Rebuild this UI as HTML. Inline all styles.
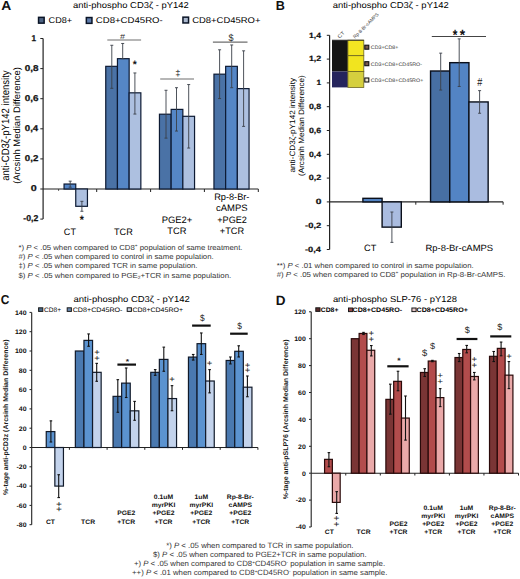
<!DOCTYPE html>
<html><head><meta charset="utf-8"><style>
html,body{margin:0;padding:0;background:#fff;width:520px;height:579px;overflow:hidden}
svg{display:block;font-family:"Liberation Sans", sans-serif;text-rendering:geometricPrecision}
</style></head><body>
<svg width="520" height="579" viewBox="0 0 520 579">
<rect width="520" height="579" fill="#fff"/>
<text transform="translate(1.15,10.3) scale(1.060,1)" font-size="13.08" font-weight="bold" fill="#111">A</text>
<text x="73" y="8.2" font-size="8.6" textLength="115.7" lengthAdjust="spacingAndGlyphs">anti-phospho CD3&#950; - pY142</text>
<rect x="38.55" y="17.35" width="5.6" height="5.8" fill="#4e6484" stroke="#0a1426" stroke-width="1.5"/>
<rect x="86.35" y="17.55" width="5.6" height="5.8" fill="#5e7cac" stroke="#0a1426" stroke-width="1.5"/>
<rect x="182.95" y="17.15" width="5.6" height="5.8" fill="#aab8ce" stroke="#0a1426" stroke-width="1.5"/>
<text x="48.6" y="23.1" font-size="8.4" textLength="23.5" lengthAdjust="spacingAndGlyphs">CD8+</text>
<text x="95.8" y="23.2" font-size="8.4" textLength="67" lengthAdjust="spacingAndGlyphs">CD8+CD45RO-</text>
<text x="192.2" y="23" font-size="8.4" textLength="68.3" lengthAdjust="spacingAndGlyphs">CD8+CD45RO+</text>
<line x1="43.1" y1="38.5" x2="43.1" y2="219.1" stroke="#222" stroke-width="1.2"/>
<line x1="40.3" y1="38.5" x2="43.1" y2="38.5" stroke="#222" stroke-width="1"/>
<line x1="40.3" y1="68.6" x2="43.1" y2="68.6" stroke="#222" stroke-width="1"/>
<line x1="40.3" y1="98.7" x2="43.1" y2="98.7" stroke="#222" stroke-width="1"/>
<line x1="40.3" y1="128.8" x2="43.1" y2="128.8" stroke="#222" stroke-width="1"/>
<line x1="40.3" y1="158.9" x2="43.1" y2="158.9" stroke="#222" stroke-width="1"/>
<line x1="40.3" y1="189" x2="43.1" y2="189" stroke="#222" stroke-width="1"/>
<line x1="40.3" y1="219.1" x2="43.1" y2="219.1" stroke="#222" stroke-width="1"/>
<text transform="translate(31.38,40.75) scale(0.969,1)" font-size="8.45" font-weight="bold" fill="#111" stroke="#111" stroke-width="0.25">1</text>
<text transform="translate(24.8,70.85) scale(1.174,1)" font-size="8.45" font-weight="bold" fill="#111" stroke="#111" stroke-width="0.25">0,8</text>
<text transform="translate(24.8,100.95) scale(1.170,1)" font-size="8.45" font-weight="bold" fill="#111" stroke="#111" stroke-width="0.25">0,6</text>
<text transform="translate(24.81,131.05) scale(1.144,1)" font-size="8.45" font-weight="bold" fill="#111" stroke="#111" stroke-width="0.25">0,4</text>
<text transform="translate(24.81,161.15) scale(1.147,1)" font-size="8.45" font-weight="bold" fill="#111" stroke="#111" stroke-width="0.25">0,2</text>
<text transform="translate(30.87,191.25) scale(1.268,1)" font-size="8.45" font-weight="bold" fill="#111" stroke="#111" stroke-width="0.25">0</text>
<text transform="translate(23.25,221.35) scale(1.029,1)" font-size="8.45" font-weight="bold" fill="#111" stroke="#111" stroke-width="0.25">-0,2</text>
<text transform="translate(9.3,125.6) rotate(-90)" x="0" y="0" font-size="10.6" text-anchor="middle" textLength="110.5" lengthAdjust="spacingAndGlyphs">anti-CD3&#950;-pY142 intensity</text>
<text transform="translate(19.9,125.5) rotate(-90)" x="0" y="0" font-size="9.4" text-anchor="middle" textLength="116.7" lengthAdjust="spacingAndGlyphs">(Arcsinh Median Difference)</text>
<line x1="43.1" y1="189" x2="258.3" y2="189" stroke="#222" stroke-width="1.2"/>
<line x1="96.7" y1="189" x2="96.7" y2="192" stroke="#222" stroke-width="1"/>
<line x1="150.6" y1="189" x2="150.6" y2="192" stroke="#222" stroke-width="1"/>
<line x1="204.4" y1="189" x2="204.4" y2="192" stroke="#222" stroke-width="1"/>
<line x1="258.3" y1="189" x2="258.3" y2="192" stroke="#222" stroke-width="1"/>
<rect x="64.05" y="184.03" width="11.7" height="4.97" fill="#5586c6" stroke="#0d1a33" stroke-width="1.2"/>
<rect x="75.75" y="189" width="11.7" height="17.31" fill="#adc0e0" stroke="#0d1a33" stroke-width="1.2"/>
<rect x="105.75" y="66.34" width="11.7" height="122.66" fill="#4a72a6" stroke="#0d1a33" stroke-width="1.2"/>
<rect x="117.45" y="58.67" width="11.7" height="130.33" fill="#5586c6" stroke="#0d1a33" stroke-width="1.2"/>
<rect x="129.15" y="92.83" width="11.7" height="96.17" fill="#adc0e0" stroke="#0d1a33" stroke-width="1.2"/>
<rect x="159.45" y="114.2" width="11.7" height="74.8" fill="#4a72a6" stroke="#0d1a33" stroke-width="1.2"/>
<rect x="171.15" y="109.39" width="11.7" height="79.61" fill="#5586c6" stroke="#0d1a33" stroke-width="1.2"/>
<rect x="182.85" y="116.31" width="11.7" height="72.69" fill="#adc0e0" stroke="#0d1a33" stroke-width="1.2"/>
<rect x="213.95" y="74.17" width="11.7" height="114.83" fill="#4a72a6" stroke="#0d1a33" stroke-width="1.2"/>
<rect x="225.65" y="66.34" width="11.7" height="122.66" fill="#5586c6" stroke="#0d1a33" stroke-width="1.2"/>
<rect x="237.35" y="88.62" width="11.7" height="100.38" fill="#adc0e0" stroke="#0d1a33" stroke-width="1.2"/>
<line x1="70.2" y1="181.17" x2="70.2" y2="187.19" stroke="#3a3f48" stroke-width="0.9"/>
<line x1="68.7" y1="181.17" x2="71.7" y2="181.17" stroke="#3a3f48" stroke-width="0.9"/>
<line x1="68.7" y1="187.19" x2="71.7" y2="187.19" stroke="#3a3f48" stroke-width="0.9"/>
<line x1="81.9" y1="201.34" x2="81.9" y2="211.27" stroke="#3a3f48" stroke-width="0.9"/>
<line x1="80.4" y1="201.34" x2="83.4" y2="201.34" stroke="#3a3f48" stroke-width="0.9"/>
<line x1="80.4" y1="211.27" x2="83.4" y2="211.27" stroke="#3a3f48" stroke-width="0.9"/>
<line x1="111.8" y1="45.27" x2="111.8" y2="88.32" stroke="#3a3f48" stroke-width="0.9"/>
<line x1="110.3" y1="45.27" x2="113.3" y2="45.27" stroke="#3a3f48" stroke-width="0.9"/>
<line x1="110.3" y1="88.32" x2="113.3" y2="88.32" stroke="#3a3f48" stroke-width="0.9"/>
<line x1="122.7" y1="43.47" x2="122.7" y2="58.67" stroke="#3a3f48" stroke-width="0.9"/>
<line x1="121.2" y1="43.47" x2="124.2" y2="43.47" stroke="#3a3f48" stroke-width="0.9"/>
<line x1="121.2" y1="58.67" x2="124.2" y2="58.67" stroke="#3a3f48" stroke-width="0.9"/>
<line x1="134.9" y1="72.96" x2="134.9" y2="114.05" stroke="#3a3f48" stroke-width="0.9"/>
<line x1="133.4" y1="72.96" x2="136.4" y2="72.96" stroke="#3a3f48" stroke-width="0.9"/>
<line x1="133.4" y1="114.05" x2="136.4" y2="114.05" stroke="#3a3f48" stroke-width="0.9"/>
<line x1="166" y1="90.27" x2="166" y2="138.13" stroke="#3a3f48" stroke-width="0.9"/>
<line x1="164.5" y1="90.27" x2="167.5" y2="90.27" stroke="#3a3f48" stroke-width="0.9"/>
<line x1="164.5" y1="138.13" x2="167.5" y2="138.13" stroke="#3a3f48" stroke-width="0.9"/>
<line x1="176.5" y1="87.71" x2="176.5" y2="131.06" stroke="#3a3f48" stroke-width="0.9"/>
<line x1="175" y1="87.71" x2="178" y2="87.71" stroke="#3a3f48" stroke-width="0.9"/>
<line x1="175" y1="131.06" x2="178" y2="131.06" stroke="#3a3f48" stroke-width="0.9"/>
<line x1="188.7" y1="84.55" x2="188.7" y2="148.06" stroke="#3a3f48" stroke-width="0.9"/>
<line x1="187.2" y1="84.55" x2="190.2" y2="84.55" stroke="#3a3f48" stroke-width="0.9"/>
<line x1="187.2" y1="148.06" x2="190.2" y2="148.06" stroke="#3a3f48" stroke-width="0.9"/>
<line x1="219.6" y1="49.79" x2="219.6" y2="98.55" stroke="#3a3f48" stroke-width="0.9"/>
<line x1="218.1" y1="49.79" x2="221.1" y2="49.79" stroke="#3a3f48" stroke-width="0.9"/>
<line x1="218.1" y1="98.55" x2="221.1" y2="98.55" stroke="#3a3f48" stroke-width="0.9"/>
<line x1="231.7" y1="44.97" x2="231.7" y2="87.71" stroke="#3a3f48" stroke-width="0.9"/>
<line x1="230.2" y1="44.97" x2="233.2" y2="44.97" stroke="#3a3f48" stroke-width="0.9"/>
<line x1="230.2" y1="87.71" x2="233.2" y2="87.71" stroke="#3a3f48" stroke-width="0.9"/>
<line x1="243.6" y1="50.84" x2="243.6" y2="126.39" stroke="#3a3f48" stroke-width="0.9"/>
<line x1="242.1" y1="50.84" x2="245.1" y2="50.84" stroke="#3a3f48" stroke-width="0.9"/>
<line x1="242.1" y1="126.39" x2="245.1" y2="126.39" stroke="#3a3f48" stroke-width="0.9"/>
<line x1="58.6" y1="189" x2="58.6" y2="190.8" stroke="#333" stroke-width="0.9"/>
<line x1="107.3" y1="40" x2="141.1" y2="40" stroke="#6e6e6e" stroke-width="1.15"/>
<text transform="translate(119.96,38.7) scale(1.250,1)" font-size="7.16" fill="#222">#</text>
<text transform="translate(132.87,68.1) scale(0.966,1)" font-size="10.75" font-weight="bold" fill="#111">*</text>
<line x1="160.2" y1="79" x2="194" y2="79" stroke="#6e6e6e" stroke-width="1.15"/>
<text transform="translate(175.28,75.7) scale(1.088,1)" font-size="8.69" fill="#222">&#8225;</text>
<line x1="212.9" y1="42.1" x2="247.5" y2="42.1" stroke="#6e6e6e" stroke-width="1.15"/>
<text transform="translate(228.6,41.23) scale(0.929,1)" font-size="9.77" fill="#222">$</text>
<text transform="translate(79.77,223.61) scale(0.861,1)" font-size="12.37" font-weight="bold" fill="#111">*</text>
<text x="69.9" y="234.6" font-size="9.3" text-anchor="middle" textLength="12.1" lengthAdjust="spacingAndGlyphs">CT</text>
<text x="123.4" y="234.6" font-size="9.3" text-anchor="middle" textLength="18.7" lengthAdjust="spacingAndGlyphs">TCR</text>
<text x="177" y="222.8" font-size="9.3" text-anchor="middle" textLength="30.7" lengthAdjust="spacingAndGlyphs">PGE2+</text>
<text x="176.9" y="233.6" font-size="9.3" text-anchor="middle" textLength="19.1" lengthAdjust="spacingAndGlyphs">TCR</text>
<text x="231.8" y="200.2" font-size="9.3" text-anchor="middle" textLength="35.3" lengthAdjust="spacingAndGlyphs">Rp-8-Br-</text>
<text x="231.8" y="211.2" font-size="9.3" text-anchor="middle" textLength="31.7" lengthAdjust="spacingAndGlyphs">cAMPS</text>
<text x="232.1" y="222.8" font-size="9.3" text-anchor="middle" textLength="29.6" lengthAdjust="spacingAndGlyphs">+PGE2</text>
<text x="232" y="233.6" font-size="9.3" text-anchor="middle" textLength="24.3" lengthAdjust="spacingAndGlyphs">+TCR</text>
<text x="18.5" y="249.6" font-size="7.3" fill="#333" textLength="224" lengthAdjust="spacingAndGlyphs">*) <tspan font-style="italic">P</tspan> &lt; .05 when compared to CD8<tspan font-size="4.5" dy="-2.5">+</tspan><tspan dy="2.5"> population of same treatment.</tspan></text>
<text x="18.5" y="259" font-size="7.3" fill="#333" textLength="195.2" lengthAdjust="spacingAndGlyphs">#) <tspan font-style="italic">P</tspan> &lt; .05 when compared to control in same population.</text>
<text x="18.5" y="268.4" font-size="7.3" fill="#333" textLength="179" lengthAdjust="spacingAndGlyphs">&#8225;) <tspan font-style="italic">P</tspan> &lt; .05 when compared TCR in same population.</text>
<text x="18.5" y="277.8" font-size="7.3" fill="#333" textLength="212.7" lengthAdjust="spacingAndGlyphs">$) <tspan font-style="italic">P</tspan> &lt; .05 when compared to PGE<tspan font-size="4.5" dy="1.5">2</tspan><tspan dy="-1.5">+TCR in same population.</tspan></text>
<text transform="translate(275.85,10.3) scale(0.976,1)" font-size="12.94" font-weight="bold" fill="#111">B</text>
<text x="332.7" y="8.2" font-size="8.6" textLength="116" lengthAdjust="spacingAndGlyphs">anti-phospho CD3&#950; - pY142</text>
<line x1="329.6" y1="35.3" x2="329.6" y2="249.5" stroke="#222" stroke-width="1.2"/>
<line x1="326.8" y1="35.3" x2="329.6" y2="35.3" stroke="#222" stroke-width="1"/>
<text transform="translate(308.95,37.65) scale(1.137,1)" font-size="7.59" font-weight="bold" fill="#111" stroke="#111" stroke-width="0.2">1,4</text>
<line x1="326.8" y1="59.1" x2="329.6" y2="59.1" stroke="#222" stroke-width="1"/>
<text transform="translate(308.93,61.45) scale(1.167,1)" font-size="7.59" font-weight="bold" fill="#111" stroke="#111" stroke-width="0.2">1,2</text>
<line x1="326.8" y1="82.9" x2="329.6" y2="82.9" stroke="#222" stroke-width="1"/>
<text transform="translate(316.56,85.25) scale(1.107,1)" font-size="7.59" font-weight="bold" fill="#111" stroke="#111" stroke-width="0.2">1</text>
<line x1="326.8" y1="106.7" x2="329.6" y2="106.7" stroke="#222" stroke-width="1"/>
<text transform="translate(308.95,109.05) scale(1.157,1)" font-size="7.59" font-weight="bold" fill="#111" stroke="#111" stroke-width="0.2">0,8</text>
<line x1="326.8" y1="130.5" x2="329.6" y2="130.5" stroke="#222" stroke-width="1"/>
<text transform="translate(308.95,132.85) scale(1.163,1)" font-size="7.59" font-weight="bold" fill="#111" stroke="#111" stroke-width="0.2">0,6</text>
<line x1="326.8" y1="154.3" x2="329.6" y2="154.3" stroke="#222" stroke-width="1"/>
<text transform="translate(308.95,156.65) scale(1.137,1)" font-size="7.59" font-weight="bold" fill="#111" stroke="#111" stroke-width="0.2">0,4</text>
<line x1="326.8" y1="178.1" x2="329.6" y2="178.1" stroke="#222" stroke-width="1"/>
<text transform="translate(308.74,180.45) scale(1.186,1)" font-size="7.59" font-weight="bold" fill="#111" stroke="#111" stroke-width="0.2">0,2</text>
<line x1="326.8" y1="201.9" x2="329.6" y2="201.9" stroke="#222" stroke-width="1"/>
<text transform="translate(315.69,204.25) scale(1.356,1)" font-size="7.59" font-weight="bold" fill="#111" stroke="#111" stroke-width="0.2">0</text>
<line x1="326.8" y1="225.7" x2="329.6" y2="225.7" stroke="#222" stroke-width="1"/>
<text transform="translate(305.02,228.05) scale(1.242,1)" font-size="7.59" font-weight="bold" fill="#111" stroke="#111" stroke-width="0.2">-0,2</text>
<line x1="326.8" y1="249.5" x2="329.6" y2="249.5" stroke="#222" stroke-width="1"/>
<text transform="translate(305.03,251.85) scale(1.217,1)" font-size="7.59" font-weight="bold" fill="#111" stroke="#111" stroke-width="0.2">-0,4</text>
<text transform="translate(294.6,125.25) rotate(-90)" x="0" y="0" font-size="7.8" text-anchor="middle" textLength="94.5" lengthAdjust="spacingAndGlyphs">anti-CD3&#950;-pY142 intensity</text>
<text transform="translate(304.2,125.6) rotate(-90)" x="0" y="0" font-size="7.8" text-anchor="middle" textLength="100.8" lengthAdjust="spacingAndGlyphs">(Arcsinh Median Difference)</text>
<rect x="332" y="40.2" width="15.9" height="31.3" fill="#141414"/>
<rect x="332" y="71.5" width="15.9" height="15.9" fill="#25245c"/>
<rect x="347.9" y="40.2" width="15.9" height="15.5" fill="#f3e622" stroke="#6b6420" stroke-width="0.8"/>
<rect x="347.9" y="55.7" width="15.9" height="15.8" fill="#f1e41f" stroke="#6b6420" stroke-width="0.8"/>
<rect x="347.9" y="71.5" width="15.9" height="15.9" fill="#d5cf3e" stroke="#6b6420" stroke-width="0.8"/>
<line x1="332" y1="40.2" x2="363.8" y2="40.2" stroke="#222" stroke-width="0.8"/>
<text transform="translate(339.4,38.8) rotate(-45)" font-size="5.2" fill="#444" textLength="8.2" lengthAdjust="spacingAndGlyphs">CT</text>
<text transform="translate(355.0,38.8) rotate(-45)" font-size="4.9" fill="#444" textLength="34" lengthAdjust="spacingAndGlyphs">Rp-8-Br-cAMPS</text>
<rect x="364.8" y="45.2" width="4" height="4" fill="#7a5a50" stroke="#111" stroke-width="1.1"/>
<text x="370.8" y="49.2" font-size="5" fill="#333" textLength="27.65" lengthAdjust="spacingAndGlyphs">CD3+CD8+</text>
<rect x="364.8" y="61.7" width="4" height="4" fill="#7a5a50" stroke="#111" stroke-width="1.1"/>
<text x="370.8" y="65.7" font-size="5" fill="#333" textLength="51.14" lengthAdjust="spacingAndGlyphs">CD3+CD8+CD45RO-</text>
<rect x="364.8" y="78" width="4" height="4" fill="#f0e8d8" stroke="#111" stroke-width="1.1"/>
<text x="370.8" y="82" font-size="5" fill="#333" textLength="52.48" lengthAdjust="spacingAndGlyphs">CD3+CD8+CD45RO+</text>
<line x1="329.6" y1="201.9" x2="503.1" y2="201.9" stroke="#222" stroke-width="1.2"/>
<line x1="415.8" y1="201.9" x2="415.8" y2="204.7" stroke="#222" stroke-width="1"/>
<line x1="503.1" y1="201.9" x2="503.1" y2="204.7" stroke="#222" stroke-width="1"/>
<rect x="362.9" y="198.33" width="19.2" height="3.57" fill="#5384c4" stroke="#0a0f1a" stroke-width="1.4"/>
<rect x="382.1" y="201.9" width="19.2" height="25.23" fill="#aabce0" stroke="#0a0f1a" stroke-width="1.4"/>
<rect x="430.55" y="71" width="19.2" height="130.9" fill="#476fa3" stroke="#0a0f1a" stroke-width="1.4"/>
<rect x="449.75" y="62.67" width="19.2" height="139.23" fill="#5384c4" stroke="#0a0f1a" stroke-width="1.4"/>
<rect x="468.95" y="101.94" width="19.2" height="99.96" fill="#aabce0" stroke="#0a0f1a" stroke-width="1.4"/>
<line x1="391.9" y1="212.02" x2="391.9" y2="242.36" stroke="#3a3f48" stroke-width="0.9"/>
<line x1="390.4" y1="212.02" x2="393.4" y2="212.02" stroke="#3a3f48" stroke-width="0.9"/>
<line x1="390.4" y1="242.36" x2="393.4" y2="242.36" stroke="#3a3f48" stroke-width="0.9"/>
<line x1="440.7" y1="53.15" x2="440.7" y2="90.04" stroke="#3a3f48" stroke-width="0.9"/>
<line x1="439.2" y1="53.15" x2="442.2" y2="53.15" stroke="#3a3f48" stroke-width="0.9"/>
<line x1="439.2" y1="90.04" x2="442.2" y2="90.04" stroke="#3a3f48" stroke-width="0.9"/>
<line x1="459.2" y1="38.87" x2="459.2" y2="86.47" stroke="#3a3f48" stroke-width="0.9"/>
<line x1="457.7" y1="38.87" x2="460.7" y2="38.87" stroke="#3a3f48" stroke-width="0.9"/>
<line x1="457.7" y1="86.47" x2="460.7" y2="86.47" stroke="#3a3f48" stroke-width="0.9"/>
<line x1="479.6" y1="90.64" x2="479.6" y2="113.25" stroke="#3a3f48" stroke-width="0.9"/>
<line x1="478.1" y1="90.64" x2="481.1" y2="90.64" stroke="#3a3f48" stroke-width="0.9"/>
<line x1="478.1" y1="113.25" x2="481.1" y2="113.25" stroke="#3a3f48" stroke-width="0.9"/>
<line x1="431.8" y1="36.5" x2="486" y2="36.5" stroke="#444" stroke-width="1"/>
<text transform="translate(452.66,39.97) scale(0.808,1)" font-size="14.78" font-weight="bold" fill="#111">*</text>
<text transform="translate(459.76,39.97) scale(0.931,1)" font-size="14.78" font-weight="bold" fill="#111">*</text>
<text transform="translate(477.26,86.4) scale(0.772,1)" font-size="11.84" fill="#222">#</text>
<text x="370.2" y="250.8" font-size="9.2" text-anchor="middle" textLength="12.26" lengthAdjust="spacingAndGlyphs">CT</text>
<text x="459.3" y="250.8" font-size="9" text-anchor="middle" textLength="67.74" lengthAdjust="spacingAndGlyphs">Rp-8-Br-cAMPS</text>
<text x="276.7" y="267.7" font-size="7.3" fill="#333" textLength="197" lengthAdjust="spacingAndGlyphs">**) <tspan font-style="italic">P</tspan> &lt; .01 when compared to control in same population.</text>
<text x="276.7" y="276.5" font-size="7.3" fill="#333" textLength="228.8" lengthAdjust="spacingAndGlyphs">#) <tspan font-style="italic">P</tspan> &lt; .05 when compared to CD8<tspan font-size="4.5" dy="-2.5">+</tspan><tspan dy="2.5"> population in Rp-8-Br-cAMPS.</tspan></text>
<text transform="translate(0.81,304.37) scale(0.918,1)" font-size="12.99" font-weight="bold" fill="#111">C</text>
<text x="73.5" y="301.5" font-size="8.6" textLength="116.3" lengthAdjust="spacingAndGlyphs">anti-phospho CD3&#950; - pY142</text>
<rect x="38.6" y="307.8" width="4.2" height="3.6" fill="#4a6a8a" stroke="#1a1a1a" stroke-width="1"/>
<text x="44.1" y="311.8" font-size="6.5" textLength="16.9" lengthAdjust="spacingAndGlyphs">CD8+</text>
<rect x="67.2" y="307.8" width="4.2" height="3.6" fill="#6a88b0" stroke="#1a1a1a" stroke-width="1"/>
<text x="72.7" y="311.8" font-size="6.5" textLength="49.8" lengthAdjust="spacingAndGlyphs">CD8+CD45RO-</text>
<rect x="127.2" y="307.8" width="4.2" height="3.6" fill="#d0d8e8" stroke="#1a1a1a" stroke-width="1"/>
<text x="132.4" y="311.8" font-size="6.5" textLength="50.6" lengthAdjust="spacingAndGlyphs">CD8+CD45RO+</text>
<line x1="31.7" y1="312.4" x2="31.7" y2="524.7" stroke="#222" stroke-width="1.1"/>
<line x1="29.5" y1="312.4" x2="31.7" y2="312.4" stroke="#222" stroke-width="1"/>
<text x="26.6" y="314.7" font-size="6.5" text-anchor="end" font-weight="bold" fill="#111" textLength="11.6" lengthAdjust="spacingAndGlyphs">140</text>
<line x1="29.5" y1="331.7" x2="31.7" y2="331.7" stroke="#222" stroke-width="1"/>
<text x="26.6" y="334" font-size="6.5" text-anchor="end" font-weight="bold" fill="#111" textLength="11.6" lengthAdjust="spacingAndGlyphs">120</text>
<line x1="29.5" y1="351" x2="31.7" y2="351" stroke="#222" stroke-width="1"/>
<text x="26.6" y="353.3" font-size="6.5" text-anchor="end" font-weight="bold" fill="#111" textLength="11.6" lengthAdjust="spacingAndGlyphs">100</text>
<line x1="29.5" y1="370.3" x2="31.7" y2="370.3" stroke="#222" stroke-width="1"/>
<text x="26.6" y="372.6" font-size="6.5" text-anchor="end" font-weight="bold" fill="#111" textLength="7.74" lengthAdjust="spacingAndGlyphs">80</text>
<line x1="29.5" y1="389.6" x2="31.7" y2="389.6" stroke="#222" stroke-width="1"/>
<text x="26.6" y="391.9" font-size="6.5" text-anchor="end" font-weight="bold" fill="#111" textLength="7.74" lengthAdjust="spacingAndGlyphs">60</text>
<line x1="29.5" y1="408.9" x2="31.7" y2="408.9" stroke="#222" stroke-width="1"/>
<text x="26.6" y="411.2" font-size="6.5" text-anchor="end" font-weight="bold" fill="#111" textLength="7.74" lengthAdjust="spacingAndGlyphs">40</text>
<line x1="29.5" y1="428.2" x2="31.7" y2="428.2" stroke="#222" stroke-width="1"/>
<text x="26.6" y="430.5" font-size="6.5" text-anchor="end" font-weight="bold" fill="#111" textLength="7.74" lengthAdjust="spacingAndGlyphs">20</text>
<line x1="29.5" y1="447.5" x2="31.7" y2="447.5" stroke="#222" stroke-width="1"/>
<text x="26.6" y="449.8" font-size="6.5" text-anchor="end" font-weight="bold" fill="#111" textLength="3.87" lengthAdjust="spacingAndGlyphs">0</text>
<line x1="29.5" y1="466.8" x2="31.7" y2="466.8" stroke="#222" stroke-width="1"/>
<text x="26.6" y="469.1" font-size="6.5" text-anchor="end" font-weight="bold" fill="#111" textLength="10.05" lengthAdjust="spacingAndGlyphs">-20</text>
<line x1="29.5" y1="486.1" x2="31.7" y2="486.1" stroke="#222" stroke-width="1"/>
<text x="26.6" y="488.4" font-size="6.5" text-anchor="end" font-weight="bold" fill="#111" textLength="10.05" lengthAdjust="spacingAndGlyphs">-40</text>
<line x1="29.5" y1="505.4" x2="31.7" y2="505.4" stroke="#222" stroke-width="1"/>
<text x="26.6" y="507.7" font-size="6.5" text-anchor="end" font-weight="bold" fill="#111" textLength="10.05" lengthAdjust="spacingAndGlyphs">-60</text>
<line x1="29.5" y1="524.7" x2="31.7" y2="524.7" stroke="#222" stroke-width="1"/>
<text x="26.6" y="527" font-size="6.5" text-anchor="end" font-weight="bold" fill="#111" textLength="10.05" lengthAdjust="spacingAndGlyphs">-80</text>
<text transform="translate(8.4,417.2) rotate(-90)" x="0" y="0" font-size="6.9" text-anchor="middle" font-weight="bold" fill="#1a1a1a" textLength="155.44" lengthAdjust="spacingAndGlyphs">%-tage anti-pCD3z (Arcsinh Median Difference)</text>
<line x1="31.7" y1="447.5" x2="257.9" y2="447.5" stroke="#222" stroke-width="1.1"/>
<line x1="69.4" y1="447.5" x2="69.4" y2="449.8" stroke="#222" stroke-width="1"/>
<line x1="107.1" y1="447.5" x2="107.1" y2="449.8" stroke="#222" stroke-width="1"/>
<line x1="144.8" y1="447.5" x2="144.8" y2="449.8" stroke="#222" stroke-width="1"/>
<line x1="182.5" y1="447.5" x2="182.5" y2="449.8" stroke="#222" stroke-width="1"/>
<line x1="220.2" y1="447.5" x2="220.2" y2="449.8" stroke="#222" stroke-width="1"/>
<line x1="257.9" y1="447.5" x2="257.9" y2="449.8" stroke="#222" stroke-width="1"/>
<rect x="46.25" y="431.58" width="8.6" height="15.92" fill="#5b93d0" stroke="#111a2a" stroke-width="1.2"/>
<rect x="54.85" y="447.5" width="8.6" height="38.6" fill="#c3d3ec" stroke="#111a2a" stroke-width="1.2"/>
<rect x="75.35" y="351" width="8.6" height="96.5" fill="#4a79b0" stroke="#111a2a" stroke-width="1.2"/>
<rect x="83.95" y="340.38" width="8.6" height="107.12" fill="#5b93d0" stroke="#111a2a" stroke-width="1.2"/>
<rect x="92.55" y="372.33" width="8.6" height="75.17" fill="#c3d3ec" stroke="#111a2a" stroke-width="1.2"/>
<rect x="113.05" y="396.36" width="8.6" height="51.14" fill="#4a79b0" stroke="#111a2a" stroke-width="1.2"/>
<rect x="121.65" y="383.13" width="8.6" height="64.37" fill="#5b93d0" stroke="#111a2a" stroke-width="1.2"/>
<rect x="130.25" y="410.83" width="8.6" height="36.67" fill="#c3d3ec" stroke="#111a2a" stroke-width="1.2"/>
<rect x="150.75" y="372.33" width="8.6" height="75.17" fill="#4a79b0" stroke="#111a2a" stroke-width="1.2"/>
<rect x="159.35" y="359.4" width="8.6" height="88.1" fill="#5b93d0" stroke="#111a2a" stroke-width="1.2"/>
<rect x="167.95" y="398.57" width="8.6" height="48.93" fill="#c3d3ec" stroke="#111a2a" stroke-width="1.2"/>
<rect x="188.45" y="357.08" width="8.6" height="90.42" fill="#4a79b0" stroke="#111a2a" stroke-width="1.2"/>
<rect x="197.05" y="343.67" width="8.6" height="103.83" fill="#5b93d0" stroke="#111a2a" stroke-width="1.2"/>
<rect x="205.65" y="381.01" width="8.6" height="66.49" fill="#c3d3ec" stroke="#111a2a" stroke-width="1.2"/>
<rect x="226.15" y="360.46" width="8.6" height="87.04" fill="#4a79b0" stroke="#111a2a" stroke-width="1.2"/>
<rect x="234.75" y="351.29" width="8.6" height="96.21" fill="#5b93d0" stroke="#111a2a" stroke-width="1.2"/>
<rect x="243.35" y="387.19" width="8.6" height="60.31" fill="#c3d3ec" stroke="#111a2a" stroke-width="1.2"/>
<line x1="50.9" y1="420.87" x2="50.9" y2="442" stroke="#111" stroke-width="1.1"/>
<line x1="49.6" y1="420.87" x2="52.2" y2="420.87" stroke="#111" stroke-width="1.1"/>
<line x1="49.6" y1="442" x2="52.2" y2="442" stroke="#111" stroke-width="1.1"/>
<line x1="58.7" y1="474.71" x2="58.7" y2="497.58" stroke="#111" stroke-width="1.1"/>
<line x1="57.4" y1="474.71" x2="60" y2="474.71" stroke="#111" stroke-width="1.1"/>
<line x1="57.4" y1="497.58" x2="60" y2="497.58" stroke="#111" stroke-width="1.1"/>
<line x1="88.6" y1="333.92" x2="88.6" y2="346.27" stroke="#111" stroke-width="1.1"/>
<line x1="87.3" y1="333.92" x2="89.9" y2="333.92" stroke="#111" stroke-width="1.1"/>
<line x1="87.3" y1="346.27" x2="89.9" y2="346.27" stroke="#111" stroke-width="1.1"/>
<line x1="96.7" y1="363.35" x2="96.7" y2="381.3" stroke="#111" stroke-width="1.1"/>
<line x1="95.4" y1="363.35" x2="98" y2="363.35" stroke="#111" stroke-width="1.1"/>
<line x1="95.4" y1="381.3" x2="98" y2="381.3" stroke="#111" stroke-width="1.1"/>
<line x1="117.8" y1="379.66" x2="117.8" y2="412.28" stroke="#111" stroke-width="1.1"/>
<line x1="116.5" y1="379.66" x2="119.1" y2="379.66" stroke="#111" stroke-width="1.1"/>
<line x1="116.5" y1="412.28" x2="119.1" y2="412.28" stroke="#111" stroke-width="1.1"/>
<line x1="126.2" y1="367.98" x2="126.2" y2="397.51" stroke="#111" stroke-width="1.1"/>
<line x1="124.9" y1="367.98" x2="127.5" y2="367.98" stroke="#111" stroke-width="1.1"/>
<line x1="124.9" y1="397.51" x2="127.5" y2="397.51" stroke="#111" stroke-width="1.1"/>
<line x1="134.6" y1="401.37" x2="134.6" y2="420.29" stroke="#111" stroke-width="1.1"/>
<line x1="133.3" y1="401.37" x2="135.9" y2="401.37" stroke="#111" stroke-width="1.1"/>
<line x1="133.3" y1="420.29" x2="135.9" y2="420.29" stroke="#111" stroke-width="1.1"/>
<line x1="155.2" y1="369.62" x2="155.2" y2="375.32" stroke="#111" stroke-width="1.1"/>
<line x1="153.9" y1="369.62" x2="156.5" y2="369.62" stroke="#111" stroke-width="1.1"/>
<line x1="153.9" y1="375.32" x2="156.5" y2="375.32" stroke="#111" stroke-width="1.1"/>
<line x1="163.8" y1="347.14" x2="163.8" y2="371.26" stroke="#111" stroke-width="1.1"/>
<line x1="162.5" y1="347.14" x2="165.1" y2="347.14" stroke="#111" stroke-width="1.1"/>
<line x1="162.5" y1="371.26" x2="165.1" y2="371.26" stroke="#111" stroke-width="1.1"/>
<line x1="172" y1="385.64" x2="172" y2="410.73" stroke="#111" stroke-width="1.1"/>
<line x1="170.7" y1="385.64" x2="173.3" y2="385.64" stroke="#111" stroke-width="1.1"/>
<line x1="170.7" y1="410.73" x2="173.3" y2="410.73" stroke="#111" stroke-width="1.1"/>
<line x1="193.2" y1="354.47" x2="193.2" y2="360.07" stroke="#111" stroke-width="1.1"/>
<line x1="191.9" y1="354.47" x2="194.5" y2="354.47" stroke="#111" stroke-width="1.1"/>
<line x1="191.9" y1="360.07" x2="194.5" y2="360.07" stroke="#111" stroke-width="1.1"/>
<line x1="201.3" y1="332.95" x2="201.3" y2="354.47" stroke="#111" stroke-width="1.1"/>
<line x1="200" y1="332.95" x2="202.6" y2="332.95" stroke="#111" stroke-width="1.1"/>
<line x1="200" y1="354.47" x2="202.6" y2="354.47" stroke="#111" stroke-width="1.1"/>
<line x1="209.6" y1="369.62" x2="209.6" y2="392.88" stroke="#111" stroke-width="1.1"/>
<line x1="208.3" y1="369.62" x2="210.9" y2="369.62" stroke="#111" stroke-width="1.1"/>
<line x1="208.3" y1="392.88" x2="210.9" y2="392.88" stroke="#111" stroke-width="1.1"/>
<line x1="230.4" y1="356.98" x2="230.4" y2="363.93" stroke="#111" stroke-width="1.1"/>
<line x1="229.1" y1="356.98" x2="231.7" y2="356.98" stroke="#111" stroke-width="1.1"/>
<line x1="229.1" y1="363.93" x2="231.7" y2="363.93" stroke="#111" stroke-width="1.1"/>
<line x1="238.7" y1="345.79" x2="238.7" y2="356.98" stroke="#111" stroke-width="1.1"/>
<line x1="237.4" y1="345.79" x2="240" y2="345.79" stroke="#111" stroke-width="1.1"/>
<line x1="237.4" y1="356.98" x2="240" y2="356.98" stroke="#111" stroke-width="1.1"/>
<line x1="247.4" y1="375.99" x2="247.4" y2="396.74" stroke="#111" stroke-width="1.1"/>
<line x1="246.1" y1="375.99" x2="248.7" y2="375.99" stroke="#111" stroke-width="1.1"/>
<line x1="246.1" y1="396.74" x2="248.7" y2="396.74" stroke="#111" stroke-width="1.1"/>
<line x1="117.4" y1="364.6" x2="136" y2="364.6" stroke="#111" stroke-width="2.2"/>
<line x1="192.1" y1="325.6" x2="210.7" y2="325.6" stroke="#111" stroke-width="2.2"/>
<line x1="230.1" y1="333.7" x2="247.7" y2="333.7" stroke="#111" stroke-width="2.2"/>
<text transform="translate(56.01,506.61) scale(1.174,1)" font-size="8.59" fill="#222">+</text>
<text transform="translate(56.01,512.31) scale(1.174,1)" font-size="8.59" fill="#222">+</text>
<text transform="translate(94.34,355.36) scale(1.102,1)" font-size="8.59" fill="#222">+</text>
<text transform="translate(94.24,361.26) scale(1.102,1)" font-size="8.59" fill="#222">+</text>
<text transform="translate(125.77,364.19) scale(1.181,1)" font-size="7.26" font-weight="bold" fill="#222">*</text>
<text transform="translate(169.24,381.56) scale(1.102,1)" font-size="8.59" fill="#222">+</text>
<text transform="translate(206.84,366.36) scale(1.102,1)" font-size="8.59" fill="#222">+</text>
<text transform="translate(244.64,367.66) scale(1.102,1)" font-size="8.59" fill="#222">+</text>
<text transform="translate(244.64,373.36) scale(1.102,1)" font-size="8.59" fill="#222">+</text>
<text transform="translate(200.01,320.86) scale(0.897,1)" font-size="9.27" fill="#222">$</text>
<text transform="translate(237.31,329.16) scale(0.897,1)" font-size="9.27" fill="#222">$</text>
<text x="50.5" y="523.7" font-size="6.4" text-anchor="middle" font-weight="bold" fill="#111" textLength="9.04" lengthAdjust="spacingAndGlyphs">CT</text>
<text x="88.1" y="523.7" font-size="6.4" text-anchor="middle" font-weight="bold" fill="#111" textLength="13.94" lengthAdjust="spacingAndGlyphs">TCR</text>
<text x="126.2" y="515.45" font-size="6.4" text-anchor="middle" font-weight="bold" fill="#111" textLength="18.1" lengthAdjust="spacingAndGlyphs">PGE2</text>
<text x="126.2" y="523.68" font-size="6.4" text-anchor="middle" font-weight="bold" fill="#111" textLength="17.9" lengthAdjust="spacingAndGlyphs">+TCR</text>
<text x="163.5" y="499" font-size="6.4" text-anchor="middle" font-weight="bold" fill="#111" textLength="19.23" lengthAdjust="spacingAndGlyphs">0.1uM</text>
<text x="163.5" y="507.23" font-size="6.4" text-anchor="middle" font-weight="bold" fill="#111" textLength="23.75" lengthAdjust="spacingAndGlyphs">myrPKI</text>
<text x="163.5" y="515.46" font-size="6.4" text-anchor="middle" font-weight="bold" fill="#111" textLength="22.06" lengthAdjust="spacingAndGlyphs">+PGE2</text>
<text x="163.5" y="523.69" font-size="6.4" text-anchor="middle" font-weight="bold" fill="#111" textLength="17.9" lengthAdjust="spacingAndGlyphs">+TCR</text>
<text x="201.3" y="499" font-size="6.4" text-anchor="middle" font-weight="bold" fill="#111" textLength="13.57" lengthAdjust="spacingAndGlyphs">1uM</text>
<text x="201.3" y="507.23" font-size="6.4" text-anchor="middle" font-weight="bold" fill="#111" textLength="23.75" lengthAdjust="spacingAndGlyphs">myrPKI</text>
<text x="201.3" y="515.46" font-size="6.4" text-anchor="middle" font-weight="bold" fill="#111" textLength="22.06" lengthAdjust="spacingAndGlyphs">+PGE2</text>
<text x="201.3" y="523.69" font-size="6.4" text-anchor="middle" font-weight="bold" fill="#111" textLength="17.9" lengthAdjust="spacingAndGlyphs">+TCR</text>
<text x="240.3" y="499" font-size="6.4" text-anchor="middle" font-weight="bold" fill="#111" textLength="27.13" lengthAdjust="spacingAndGlyphs">Rp-8-Br-</text>
<text x="240.3" y="507.23" font-size="6.4" text-anchor="middle" font-weight="bold" fill="#111" textLength="23.37" lengthAdjust="spacingAndGlyphs">cAMPS</text>
<text x="240.3" y="515.46" font-size="6.4" text-anchor="middle" font-weight="bold" fill="#111" textLength="22.06" lengthAdjust="spacingAndGlyphs">+PGE2</text>
<text x="240.3" y="523.69" font-size="6.4" text-anchor="middle" font-weight="bold" fill="#111" textLength="17.9" lengthAdjust="spacingAndGlyphs">+TCR</text>
<text transform="translate(275.69,305.1) scale(1.013,1)" font-size="13.37" font-weight="bold" fill="#111">D</text>
<text x="332.9" y="302" font-size="8.6" textLength="124" lengthAdjust="spacingAndGlyphs">anti-phospho SLP-76 - pY128</text>
<rect x="315.8" y="307.8" width="4.2" height="3.6" fill="#5a2a2a" stroke="#1a1a1a" stroke-width="1"/>
<text x="320.8" y="312" font-size="6.5" font-weight="bold" textLength="17.6" lengthAdjust="spacingAndGlyphs">CD8+</text>
<rect x="348.5" y="308" width="4.2" height="3.6" fill="#9a4a4a" stroke="#1a1a1a" stroke-width="1"/>
<text x="352.6" y="312" font-size="6.5" font-weight="bold" textLength="49.5" lengthAdjust="spacingAndGlyphs">CD8+CD45RO-</text>
<rect x="411.9" y="308" width="4.2" height="3.6" fill="#e8c8c8" stroke="#1a1a1a" stroke-width="1"/>
<text x="416.5" y="312" font-size="6.5" font-weight="bold" textLength="51.4" lengthAdjust="spacingAndGlyphs">CD8+CD45RO+</text>
<line x1="311.2" y1="311.8" x2="311.2" y2="527" stroke="#222" stroke-width="1.1"/>
<line x1="309" y1="311.8" x2="311.2" y2="311.8" stroke="#222" stroke-width="1"/>
<text x="305.8" y="314.1" font-size="6.5" text-anchor="end" font-weight="bold" fill="#111" textLength="11.6" lengthAdjust="spacingAndGlyphs">120</text>
<line x1="309" y1="338.7" x2="311.2" y2="338.7" stroke="#222" stroke-width="1"/>
<text x="305.8" y="341" font-size="6.5" text-anchor="end" font-weight="bold" fill="#111" textLength="11.6" lengthAdjust="spacingAndGlyphs">100</text>
<line x1="309" y1="365.6" x2="311.2" y2="365.6" stroke="#222" stroke-width="1"/>
<text x="305.8" y="367.9" font-size="6.5" text-anchor="end" font-weight="bold" fill="#111" textLength="7.74" lengthAdjust="spacingAndGlyphs">80</text>
<line x1="309" y1="392.5" x2="311.2" y2="392.5" stroke="#222" stroke-width="1"/>
<text x="305.8" y="394.8" font-size="6.5" text-anchor="end" font-weight="bold" fill="#111" textLength="7.74" lengthAdjust="spacingAndGlyphs">60</text>
<line x1="309" y1="419.4" x2="311.2" y2="419.4" stroke="#222" stroke-width="1"/>
<text x="305.8" y="421.7" font-size="6.5" text-anchor="end" font-weight="bold" fill="#111" textLength="7.74" lengthAdjust="spacingAndGlyphs">40</text>
<line x1="309" y1="446.3" x2="311.2" y2="446.3" stroke="#222" stroke-width="1"/>
<text x="305.8" y="448.6" font-size="6.5" text-anchor="end" font-weight="bold" fill="#111" textLength="7.74" lengthAdjust="spacingAndGlyphs">20</text>
<line x1="309" y1="473.2" x2="311.2" y2="473.2" stroke="#222" stroke-width="1"/>
<text x="305.8" y="475.5" font-size="6.5" text-anchor="end" font-weight="bold" fill="#111" textLength="3.87" lengthAdjust="spacingAndGlyphs">0</text>
<line x1="309" y1="500.1" x2="311.2" y2="500.1" stroke="#222" stroke-width="1"/>
<text x="305.8" y="502.4" font-size="6.5" text-anchor="end" font-weight="bold" fill="#111" textLength="10.05" lengthAdjust="spacingAndGlyphs">-20</text>
<line x1="309" y1="527" x2="311.2" y2="527" stroke="#222" stroke-width="1"/>
<text x="305.8" y="529.3" font-size="6.5" text-anchor="end" font-weight="bold" fill="#111" textLength="10.05" lengthAdjust="spacingAndGlyphs">-40</text>
<text transform="translate(288.2,419.4) rotate(-90)" x="0" y="0" font-size="6.9" text-anchor="middle" font-weight="bold" fill="#1a1a1a" textLength="159.7" lengthAdjust="spacingAndGlyphs">%-tage anti-pSLP76 (Arcsinh Median Difference)</text>
<line x1="311.2" y1="473.2" x2="518.5" y2="473.2" stroke="#222" stroke-width="1.1"/>
<line x1="345.75" y1="473.2" x2="345.75" y2="475.5" stroke="#222" stroke-width="1"/>
<line x1="380.3" y1="473.2" x2="380.3" y2="475.5" stroke="#222" stroke-width="1"/>
<line x1="414.85" y1="473.2" x2="414.85" y2="475.5" stroke="#222" stroke-width="1"/>
<line x1="449.4" y1="473.2" x2="449.4" y2="475.5" stroke="#222" stroke-width="1"/>
<line x1="483.95" y1="473.2" x2="483.95" y2="475.5" stroke="#222" stroke-width="1"/>
<line x1="518.5" y1="473.2" x2="518.5" y2="475.5" stroke="#222" stroke-width="1"/>
<rect x="324.57" y="459.35" width="7.8" height="13.85" fill="#b24c4c" stroke="#2a0a0a" stroke-width="1.2"/>
<rect x="332.38" y="473.2" width="7.8" height="29.19" fill="#eaa9a9" stroke="#2a0a0a" stroke-width="1.2"/>
<rect x="351.32" y="338.7" width="7.8" height="134.5" fill="#7a3535" stroke="#2a0a0a" stroke-width="1.2"/>
<rect x="359.12" y="333.45" width="7.8" height="139.75" fill="#b24c4c" stroke="#2a0a0a" stroke-width="1.2"/>
<rect x="366.93" y="350.27" width="7.8" height="122.93" fill="#eaa9a9" stroke="#2a0a0a" stroke-width="1.2"/>
<rect x="385.88" y="399.36" width="7.8" height="73.84" fill="#7a3535" stroke="#2a0a0a" stroke-width="1.2"/>
<rect x="393.68" y="381.34" width="7.8" height="91.86" fill="#b24c4c" stroke="#2a0a0a" stroke-width="1.2"/>
<rect x="401.48" y="418.06" width="7.8" height="55.14" fill="#eaa9a9" stroke="#2a0a0a" stroke-width="1.2"/>
<rect x="420.43" y="372.46" width="7.8" height="100.74" fill="#7a3535" stroke="#2a0a0a" stroke-width="1.2"/>
<rect x="428.23" y="361.03" width="7.8" height="112.17" fill="#b24c4c" stroke="#2a0a0a" stroke-width="1.2"/>
<rect x="436.03" y="397.61" width="7.8" height="75.59" fill="#eaa9a9" stroke="#2a0a0a" stroke-width="1.2"/>
<rect x="454.97" y="357.53" width="7.8" height="115.67" fill="#7a3535" stroke="#2a0a0a" stroke-width="1.2"/>
<rect x="462.77" y="349.46" width="7.8" height="123.74" fill="#b24c4c" stroke="#2a0a0a" stroke-width="1.2"/>
<rect x="470.57" y="376.49" width="7.8" height="96.71" fill="#eaa9a9" stroke="#2a0a0a" stroke-width="1.2"/>
<rect x="489.52" y="356.32" width="7.8" height="116.88" fill="#7a3535" stroke="#2a0a0a" stroke-width="1.2"/>
<rect x="497.32" y="348.38" width="7.8" height="124.82" fill="#b24c4c" stroke="#2a0a0a" stroke-width="1.2"/>
<rect x="505.12" y="375.15" width="7.8" height="98.05" fill="#eaa9a9" stroke="#2a0a0a" stroke-width="1.2"/>
<line x1="328.9" y1="452.62" x2="328.9" y2="466.74" stroke="#111" stroke-width="1.1"/>
<line x1="327.6" y1="452.62" x2="330.2" y2="452.62" stroke="#111" stroke-width="1.1"/>
<line x1="327.6" y1="466.74" x2="330.2" y2="466.74" stroke="#111" stroke-width="1.1"/>
<line x1="336.7" y1="491.63" x2="336.7" y2="513.42" stroke="#111" stroke-width="1.1"/>
<line x1="335.4" y1="491.63" x2="338" y2="491.63" stroke="#111" stroke-width="1.1"/>
<line x1="335.4" y1="513.42" x2="338" y2="513.42" stroke="#111" stroke-width="1.1"/>
<line x1="363.5" y1="332.38" x2="363.5" y2="334.53" stroke="#111" stroke-width="1.1"/>
<line x1="362.2" y1="332.38" x2="364.8" y2="332.38" stroke="#111" stroke-width="1.1"/>
<line x1="362.2" y1="334.53" x2="364.8" y2="334.53" stroke="#111" stroke-width="1.1"/>
<line x1="371.3" y1="345.56" x2="371.3" y2="355.92" stroke="#111" stroke-width="1.1"/>
<line x1="370" y1="345.56" x2="372.6" y2="345.56" stroke="#111" stroke-width="1.1"/>
<line x1="370" y1="355.92" x2="372.6" y2="355.92" stroke="#111" stroke-width="1.1"/>
<line x1="390.3" y1="384.16" x2="390.3" y2="414.15" stroke="#111" stroke-width="1.1"/>
<line x1="389" y1="384.16" x2="391.6" y2="384.16" stroke="#111" stroke-width="1.1"/>
<line x1="389" y1="414.15" x2="391.6" y2="414.15" stroke="#111" stroke-width="1.1"/>
<line x1="398" y1="371.25" x2="398" y2="390.75" stroke="#111" stroke-width="1.1"/>
<line x1="396.7" y1="371.25" x2="399.3" y2="371.25" stroke="#111" stroke-width="1.1"/>
<line x1="396.7" y1="390.75" x2="399.3" y2="390.75" stroke="#111" stroke-width="1.1"/>
<line x1="405.5" y1="396" x2="405.5" y2="440.11" stroke="#111" stroke-width="1.1"/>
<line x1="404.2" y1="396" x2="406.8" y2="396" stroke="#111" stroke-width="1.1"/>
<line x1="404.2" y1="440.11" x2="406.8" y2="440.11" stroke="#111" stroke-width="1.1"/>
<line x1="424.7" y1="368.69" x2="424.7" y2="376.49" stroke="#111" stroke-width="1.1"/>
<line x1="423.4" y1="368.69" x2="426" y2="368.69" stroke="#111" stroke-width="1.1"/>
<line x1="423.4" y1="376.49" x2="426" y2="376.49" stroke="#111" stroke-width="1.1"/>
<line x1="432.4" y1="360.35" x2="432.4" y2="361.7" stroke="#111" stroke-width="1.1"/>
<line x1="431.1" y1="360.35" x2="433.7" y2="360.35" stroke="#111" stroke-width="1.1"/>
<line x1="431.1" y1="361.7" x2="433.7" y2="361.7" stroke="#111" stroke-width="1.1"/>
<line x1="440.2" y1="388.6" x2="440.2" y2="406.62" stroke="#111" stroke-width="1.1"/>
<line x1="438.9" y1="388.6" x2="441.5" y2="388.6" stroke="#111" stroke-width="1.1"/>
<line x1="438.9" y1="406.62" x2="441.5" y2="406.62" stroke="#111" stroke-width="1.1"/>
<line x1="459.2" y1="353.5" x2="459.2" y2="361.56" stroke="#111" stroke-width="1.1"/>
<line x1="457.9" y1="353.5" x2="460.5" y2="353.5" stroke="#111" stroke-width="1.1"/>
<line x1="457.9" y1="361.56" x2="460.5" y2="361.56" stroke="#111" stroke-width="1.1"/>
<line x1="466.7" y1="345.43" x2="466.7" y2="352.82" stroke="#111" stroke-width="1.1"/>
<line x1="465.4" y1="345.43" x2="468" y2="345.43" stroke="#111" stroke-width="1.1"/>
<line x1="465.4" y1="352.82" x2="468" y2="352.82" stroke="#111" stroke-width="1.1"/>
<line x1="474.3" y1="372.46" x2="474.3" y2="379.86" stroke="#111" stroke-width="1.1"/>
<line x1="473" y1="372.46" x2="475.6" y2="372.46" stroke="#111" stroke-width="1.1"/>
<line x1="473" y1="379.86" x2="475.6" y2="379.86" stroke="#111" stroke-width="1.1"/>
<line x1="493.7" y1="351.48" x2="493.7" y2="361.56" stroke="#111" stroke-width="1.1"/>
<line x1="492.4" y1="351.48" x2="495" y2="351.48" stroke="#111" stroke-width="1.1"/>
<line x1="492.4" y1="361.56" x2="495" y2="361.56" stroke="#111" stroke-width="1.1"/>
<line x1="501.1" y1="342.06" x2="501.1" y2="355.78" stroke="#111" stroke-width="1.1"/>
<line x1="499.8" y1="342.06" x2="502.4" y2="342.06" stroke="#111" stroke-width="1.1"/>
<line x1="499.8" y1="355.78" x2="502.4" y2="355.78" stroke="#111" stroke-width="1.1"/>
<line x1="508.9" y1="361.56" x2="508.9" y2="388.6" stroke="#111" stroke-width="1.1"/>
<line x1="507.6" y1="361.56" x2="510.2" y2="361.56" stroke="#111" stroke-width="1.1"/>
<line x1="507.6" y1="388.6" x2="510.2" y2="388.6" stroke="#111" stroke-width="1.1"/>
<line x1="387.3" y1="366.3" x2="408.6" y2="366.3" stroke="#111" stroke-width="2.2"/>
<line x1="456.6" y1="339" x2="477.4" y2="339" stroke="#111" stroke-width="2.2"/>
<line x1="490.2" y1="336.4" x2="511.3" y2="336.4" stroke="#111" stroke-width="2.2"/>
<text transform="translate(333.56,520.71) scale(1.174,1)" font-size="8.59" fill="#222">+</text>
<text transform="translate(333.56,526.86) scale(1.174,1)" font-size="8.59" fill="#222">+</text>
<text transform="translate(368.54,336.06) scale(1.102,1)" font-size="8.59" fill="#222">+</text>
<text transform="translate(368.54,341.86) scale(1.102,1)" font-size="8.59" fill="#222">+</text>
<text transform="translate(397.22,363.48) scale(1.139,1)" font-size="7.53" font-weight="bold" fill="#222">*</text>
<text transform="translate(437.32,377.92) scale(1.207,1)" font-size="8.18" fill="#222">+</text>
<text transform="translate(437.32,384.02) scale(1.207,1)" font-size="8.18" fill="#222">+</text>
<text transform="translate(471.54,362.46) scale(1.102,1)" font-size="8.59" fill="#222">+</text>
<text transform="translate(471.54,368.46) scale(1.102,1)" font-size="8.59" fill="#222">+</text>
<text transform="translate(506.14,358.66) scale(1.102,1)" font-size="8.59" fill="#222">+</text>
<text transform="translate(421.9,356.35) scale(1.006,1)" font-size="9.39" fill="#222">$</text>
<text transform="translate(430.1,349.09) scale(1.020,1)" font-size="8.9" fill="#222">$</text>
<text transform="translate(464.8,332.92) scale(0.992,1)" font-size="9.15" fill="#222">$</text>
<text transform="translate(497.2,330.32) scale(0.992,1)" font-size="9.15" fill="#222">$</text>
<text x="329.3" y="534.3" font-size="6.4" text-anchor="middle" font-weight="bold" fill="#111" textLength="9.04" lengthAdjust="spacingAndGlyphs">CT</text>
<text x="363.6" y="534.3" font-size="6.4" text-anchor="middle" font-weight="bold" fill="#111" textLength="13.94" lengthAdjust="spacingAndGlyphs">TCR</text>
<text x="398.5" y="526.1" font-size="6.4" text-anchor="middle" font-weight="bold" fill="#111" textLength="18.1" lengthAdjust="spacingAndGlyphs">PGE2</text>
<text x="398.5" y="534.3" font-size="6.4" text-anchor="middle" font-weight="bold" fill="#111" textLength="17.9" lengthAdjust="spacingAndGlyphs">+TCR</text>
<text x="433.2" y="509.7" font-size="6.4" text-anchor="middle" font-weight="bold" fill="#111" textLength="19.23" lengthAdjust="spacingAndGlyphs">0.1uM</text>
<text x="433.2" y="517.9" font-size="6.4" text-anchor="middle" font-weight="bold" fill="#111" textLength="23.75" lengthAdjust="spacingAndGlyphs">myrPKI</text>
<text x="433.2" y="526.1" font-size="6.4" text-anchor="middle" font-weight="bold" fill="#111" textLength="22.06" lengthAdjust="spacingAndGlyphs">+PGE2</text>
<text x="433.2" y="534.3" font-size="6.4" text-anchor="middle" font-weight="bold" fill="#111" textLength="17.9" lengthAdjust="spacingAndGlyphs">+TCR</text>
<text x="466.5" y="509.7" font-size="6.4" text-anchor="middle" font-weight="bold" fill="#111" textLength="13.57" lengthAdjust="spacingAndGlyphs">1uM</text>
<text x="466.5" y="517.9" font-size="6.4" text-anchor="middle" font-weight="bold" fill="#111" textLength="23.75" lengthAdjust="spacingAndGlyphs">myrPKI</text>
<text x="466.5" y="526.1" font-size="6.4" text-anchor="middle" font-weight="bold" fill="#111" textLength="22.06" lengthAdjust="spacingAndGlyphs">+PGE2</text>
<text x="466.5" y="534.3" font-size="6.4" text-anchor="middle" font-weight="bold" fill="#111" textLength="17.9" lengthAdjust="spacingAndGlyphs">+TCR</text>
<text x="502.3" y="509.7" font-size="6.4" text-anchor="middle" font-weight="bold" fill="#111" textLength="27.13" lengthAdjust="spacingAndGlyphs">Rp-8-Br-</text>
<text x="502.3" y="517.9" font-size="6.4" text-anchor="middle" font-weight="bold" fill="#111" textLength="23.37" lengthAdjust="spacingAndGlyphs">cAMPS</text>
<text x="502.3" y="526.1" font-size="6.4" text-anchor="middle" font-weight="bold" fill="#111" textLength="22.06" lengthAdjust="spacingAndGlyphs">+PGE2</text>
<text x="502.3" y="534.3" font-size="6.4" text-anchor="middle" font-weight="bold" fill="#111" textLength="17.9" lengthAdjust="spacingAndGlyphs">+TCR</text>
<text x="259.8" y="548.1" font-size="7.6" text-anchor="middle" fill="#333" textLength="187.3" lengthAdjust="spacingAndGlyphs">*) <tspan font-style="italic">P</tspan> &lt; .05 when compared to TCR in same population.</text>
<text x="259.8" y="557.4" font-size="7.6" text-anchor="middle" fill="#333" textLength="213.6" lengthAdjust="spacingAndGlyphs">$) <tspan font-style="italic">P</tspan> &lt; .05 when compared to PGE2+TCR in same population.</text>
<text x="259.5" y="566.3" font-size="7.6" text-anchor="middle" fill="#333" textLength="251.2" lengthAdjust="spacingAndGlyphs">+) <tspan font-style="italic">P</tspan> &lt; .05 when compared to CD8<tspan font-size="4.5" dy="-2.5">+</tspan><tspan dy="2.5">CD45RO</tspan><tspan font-size="4.5" dy="-2.5">-</tspan><tspan dy="2.5"> population in same sample.</tspan></text>
<text x="259.7" y="575.3" font-size="7.6" text-anchor="middle" fill="#333" textLength="255.3" lengthAdjust="spacingAndGlyphs">++) <tspan font-style="italic">P</tspan> &lt; .01 when compared to CD8<tspan font-size="4.5" dy="-2.5">+</tspan><tspan dy="2.5">CD45RO</tspan><tspan font-size="4.5" dy="-2.5">-</tspan><tspan dy="2.5"> population in same sample.</tspan></text>
</svg>
</body></html>
